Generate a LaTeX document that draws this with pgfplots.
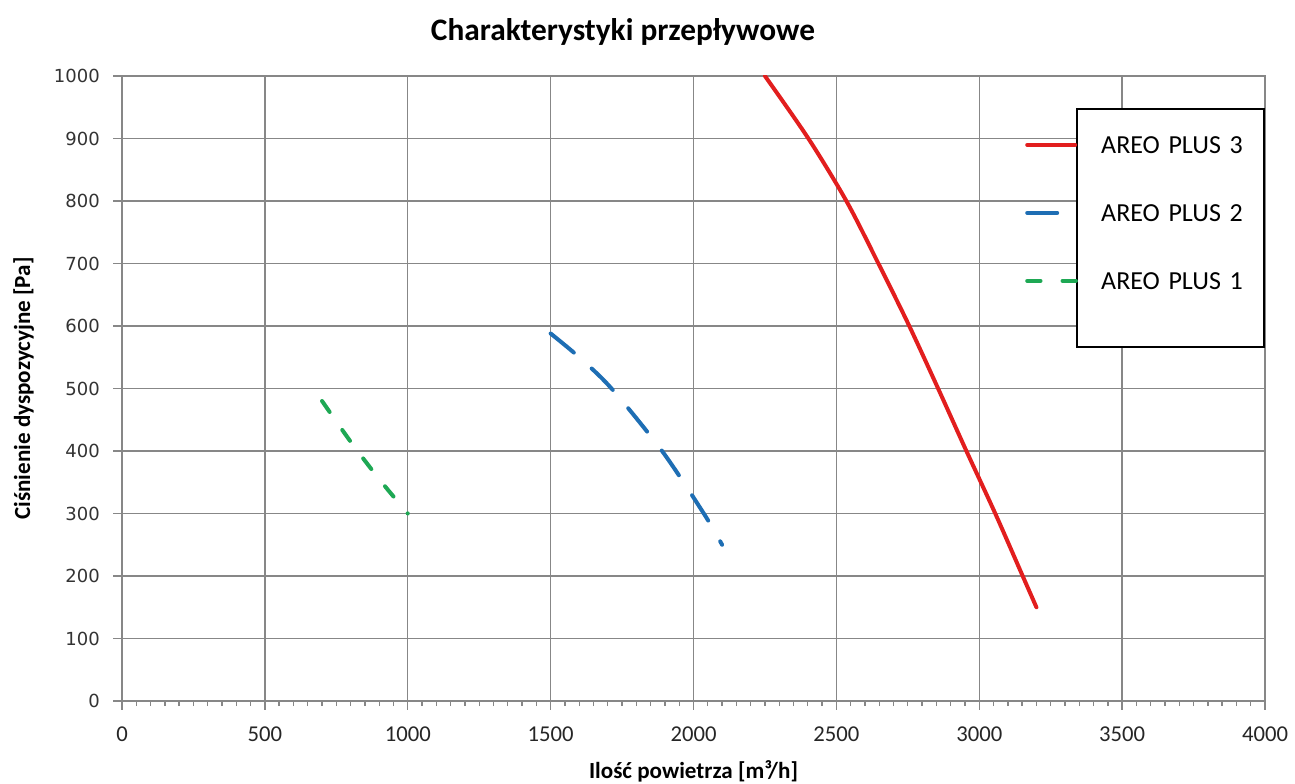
\documentclass[border=0pt]{standalone}
\usepackage{fontspec}
\setmainfont{Carlito}
\newfontfamily\dejavu{DejaVu Sans}
\usepackage{pgfplots}
\pgfplotsset{compat=1.18}
\definecolor{cred}{RGB}{226,30,30}
\definecolor{cblue}{RGB}{30,110,180}
\definecolor{cgreen}{RGB}{30,168,84}
\definecolor{cgrid}{RGB}{135,135,135}
\begin{document}
\begin{tikzpicture}
\useasboundingbox (0,0) rectangle (971.25pt,587.25pt);
\begin{axis}[
  at={(91.5pt,61.5pt)}, anchor=south west,
  scale only axis, width=857.25pt, height=468.75pt,
  xmin=0, xmax=4000, ymin=0, ymax=1000,
  xtick={0,500,...,4000}, ytick={0,100,...,1000},
  minor x tick num=9,
  xtick pos=left, ytick pos=left,
  grid=major, major grid style={cgrid, line width=1.1pt},
  axis line style={cgrid, line width=1.1pt},
  tick style={cgrid, line width=1pt},
  tick align=outside, major tick length=6.5pt, minor tick length=3.75pt,
  /pgf/number format/1000 sep={}, /pgf/number format/assume math mode=true,
  xticklabel style={font=\fontsize{17}{20}\selectfont, text=black!85, anchor=north, inner sep=0pt, yshift=-13pt},
  yticklabel style={font=\dejavu\fontsize{13.5}{16}\selectfont, text=black!80, anchor=east, inner sep=0pt, xshift=-10pt},
  title={Charakterystyki przepływowe},
  title style={font=\bfseries\fontsize{23.5}{28}\selectfont, at={(axis description cs:0.4383,1.0576)}, anchor=center},
  xlabel={Ilość powietrza [m³/h]},
  ylabel={Ciśnienie dyspozycyjne [Pa]},
  xlabel style={font=\bfseries\fontsize{17.3}{20}\selectfont, at={(axis description cs:0.5,-0.112)}, anchor=center},
  ylabel style={font=\bfseries\fontsize{17.3}{20}\selectfont, at={(axis description cs:-0.0860,0.5)}, anchor=center},
  legend cell align=left,
  legend style={at={(axis description cs:1,0.9488)}, anchor=north east, draw=black, line width=1.2pt, fill=white,
    inner xsep=15pt, inner ysep=1.5pt, column sep=0pt, row sep=0pt,
    nodes={inner sep=0pt, text depth=0pt, minimum height=51pt, text width=107.25pt, align=left, font=\fontsize{19.5}{23}\selectfont}},
]
\addplot[cred, line width=3pt, line cap=round, smooth,
  legend image code/.code={\path (0pt,0pt); \draw[overlay, cred, line width=3pt, line cap=round] (-54pt,0pt) -- (-18pt,0pt);}]
  coordinates {(2250,1000) (2402,900) (2535,800) (2647,700) (2752,603) (2856,500) (2955,400) (3056,300) (3152,200) (3200,150)};
\addlegendentry{AREO PLUS 3}
\addplot[cblue, line width=3pt, line cap=round, smooth, dash pattern=on 22.5pt off 18pt,
  legend image code/.code={\path (0pt,0pt); \draw[overlay, cblue, line width=3pt, line cap=round] (-54pt,0pt) -- (-27.75pt,0pt);}]
  coordinates {(1500,588) (1600,550) (1713,500) (1890,400) (2036,300) (2100,250)};
\addlegendentry{AREO PLUS 2}
\addplot[cgreen, line width=3pt, line cap=round, smooth, dash pattern=on 10pt off 16.5pt,
  legend image code/.code={\path (0pt,0pt); \draw[overlay, cgreen, line width=3pt, line cap=round, dash pattern=on 10pt off 16.5pt] (-54pt,0pt) -- (-16.5pt,0pt);}]
  coordinates {(700,480) (800,415) (900,355) (1000,300)};
\addlegendentry{AREO PLUS 1}
\addlegendimage{empty legend}
\addlegendentry[minimum height=22.5pt]{}
\end{axis}
\end{tikzpicture}
\end{document}
